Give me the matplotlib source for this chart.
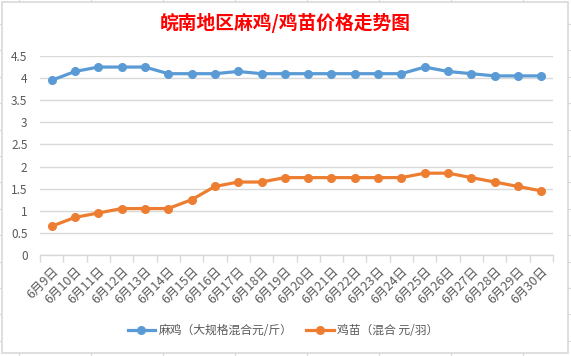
import matplotlib
matplotlib.use("Agg")
import matplotlib.pyplot as plt
from matplotlib.patches import Rectangle

plt.rcParams['font.family'] = ['Noto Sans CJK SC', 'DejaVu Sans']

# data
days = list(range(9, 31))
labels = ['6月%d日' % d for d in days]
ma_ji = [3.95, 4.15, 4.25, 4.25, 4.25, 4.1, 4.1, 4.1, 4.15, 4.1, 4.1,
         4.1, 4.1, 4.1, 4.1, 4.1, 4.25, 4.15, 4.1, 4.05, 4.05, 4.05]
ji_miao = [0.65, 0.85, 0.95, 1.05, 1.05, 1.05, 1.25, 1.55, 1.65, 1.65, 1.75,
           1.75, 1.75, 1.75, 1.75, 1.75, 1.85, 1.85, 1.75, 1.65, 1.55, 1.45]
yticks = [0, 0.5, 1, 1.5, 2, 2.5, 3, 3.5, 4, 4.5]
ytick_labels = ['0', '0.5', '1', '1.5', '2', '2.5', '3', '3.5', '4', '4.5']

W, H = 571, 356
blue = '#5B9BD5'
orange = '#ED7D31'
txt = '#595959'
grid = '#D9D9D9'

fig = plt.figure(figsize=(W / 100, H / 100), dpi=100)

# spreadsheet background with the chart box on top
bg = fig.add_axes([0, 0, 1, 1], zorder=-5)
bg.set_xlim(0, W)
bg.set_ylim(H, 0)
bg.axis('off')
for x in [19, 91, 163, 235, 307, 379, 451, 523]:
    bg.plot([x, x], [0, H], color=grid, lw=0.8)
for k in range(14):
    y = 24 + 26.4 * k
    bg.plot([0, W], [y, y], color=grid, lw=0.8)
bg.add_patch(Rectangle((2, 2), 566, 351, facecolor='white', edgecolor=grid, lw=1.2, zorder=3))

# plot area
x0, x1, ytop, ybot = 40, 553, 56, 255
ax = fig.add_axes([x0 / W, 1 - ybot / H, (x1 - x0) / W, (ybot - ytop) / H])
ax.patch.set_alpha(0)

xs = list(range(len(labels)))
ax.plot(xs, ma_ji, color=blue, lw=2.3, marker='o', markersize=5.5,
        label='麻鸡（大规格混合元/斤）', zorder=3)
ax.plot(xs, ji_miao, color=orange, lw=2.3, marker='o', markersize=5.5,
        label='鸡苗（混合 元/羽）', zorder=3)

ax.set_xlim(-0.5, len(labels) - 0.5)
ax.set_ylim(0, 4.5)
ax.set_yticks(yticks)
ax.set_yticklabels(ytick_labels)
ax.yaxis.grid(True, color=grid, lw=1)
ax.set_axisbelow(True)

ax.set_xticks(xs)
ax.set_xticklabels(labels, rotation=45, ha='right', va='top', rotation_mode='anchor')
ax.set_xticks([i - 0.5 for i in range(len(labels) + 1)], minor=True)
ax.tick_params(axis='x', which='major', length=0, pad=7, labelsize=9, labelcolor=txt)
ax.tick_params(axis='x', which='minor', length=5, color=grid, width=1)
ax.tick_params(axis='y', length=0, pad=9, labelsize=8.5, labelcolor=txt)

for s in ['top', 'right', 'left']:
    ax.spines[s].set_visible(False)
ax.spines['bottom'].set_color(grid)
ax.spines['bottom'].set_linewidth(1)

fig.text(285 / W, 1 - 23 / H, '皖南地区麻鸡/鸡苗价格走势图', color='red',
         fontsize=13.5, fontweight='bold', ha='center', va='center')

fig.legend(loc='center', bbox_to_anchor=(283 / W, 1 - 331 / H), ncol=2,
           frameon=False, fontsize=8.5, labelcolor=txt, handlelength=2.3,
           handletextpad=0.3, columnspacing=1.2)

fig.savefig('out.png', dpi=100)
